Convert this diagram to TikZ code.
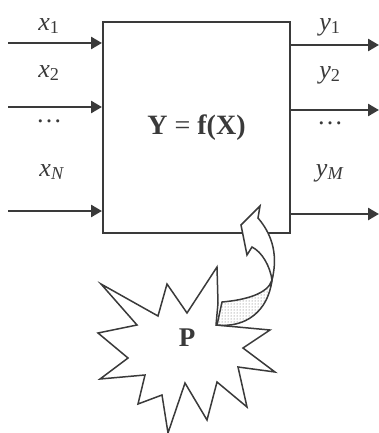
\documentclass[tikz,border=0pt]{standalone}
\usepackage{fontspec}
\setmainfont{Liberation Serif}
\usetikzlibrary{arrows.meta,patterns}
\definecolor{ink}{HTML}{3A3A3A}
\begin{document}
\begin{tikzpicture}[x=1pt,y=-1pt,
  box/.style={draw=ink,line width=2pt,fill=white,minimum width=187pt,minimum height=211pt,inner sep=0pt,text=ink},
  lab/.style={text=ink,font=\fontsize{26}{28}\selectfont,inner sep=0pt},
  arr/.style={draw=ink,line width=2.6pt,-{Triangle[length=11pt,width=12pt]}},
  thin/.style={draw=ink,line width=1.5pt,line join=miter}
]
\useasboundingbox (0,0) rectangle (379,433);
% box
\node[box] (box) at (196.5,127.5) {\fontsize{28}{30}\selectfont\textbf{Y} = \textbf{f(X)}};
% inputs
\coordinate (xs1) at (8,43);
\coordinate (xs2) at (8,107);
\coordinate (xs3) at (8,211);
\draw[arr] (xs1) -- (box.west |- xs1);
\draw[arr] (xs2) -- (box.west |- xs2);
\draw[arr] (xs3) -- (box.west |- xs3);
% outputs
\coordinate (ye1) at (379,45);
\coordinate (ye2) at (379,110);
\coordinate (ye3) at (379,214);
\draw[arr] (box.east |- ye1) -- (ye1);
\draw[arr] (box.east |- ye2) -- (ye2);
\draw[arr] (box.east |- ye3) -- (ye3);
% labels
\node[lab] (lx1) at (49,26) {\textit{x}\textsubscript{1}};
\node[lab] (lx2) at (49,73) {\textit{x}\textsubscript{2}};
\node[lab] (lxd) at (49,121) {\dots};
\node[lab] (lxn) at (52,172) {\textit{x}\textsubscript{\textit{N}}};
\node[lab] (ly1) at (330,27) {\textit{y}\textsubscript{1}};
\node[lab] (ly2) at (330,75) {\textit{y}\textsubscript{2}};
\node[lab] (lyd) at (330,123) {\dots};
\node[lab] (lym) at (330,173) {\textit{y}\textsubscript{\textit{M}}};
% star
\draw[thin,fill=white] (101,284) -- (158,316) -- (167,284) -- (187,313) -- (217,267) -- (218,303)
  -- (216,325) -- (270,330) -- (243,348) -- (275,372) -- (238,367) -- (247,407) -- (217,382)
  -- (207,420) -- (185,383) -- (168,433) -- (162,395) -- (138,404) -- (145,375) -- (100,379)
  -- (128,358) -- (98,333) -- (137,325) -- cycle;
\node[lab,font=\fontsize{27}{28}\selectfont\bfseries] (P) at (187,338) {P};
% curved arrow, front part
\draw[thin,fill=white] (260,206) -- (258,218) .. controls (270,232) and (279,252) .. (272,280)
  .. controls (270,266) and (262,252) .. (252,247) -- (247,255) -- (241,225) -- cycle;
% back (shaded) part
\fill[white] (272,280) .. controls (268,294) and (245,300) .. (222,302) -- (217,325)
  .. controls (245,328) and (268,312) .. (272,280) -- cycle;
\draw[thin,pattern=dots,pattern color=ink!80] (272,280) .. controls (268,294) and (245,300) .. (222,302) -- (217,325)
  .. controls (245,328) and (268,312) .. (272,280) -- cycle;
\end{tikzpicture}
\end{document}
